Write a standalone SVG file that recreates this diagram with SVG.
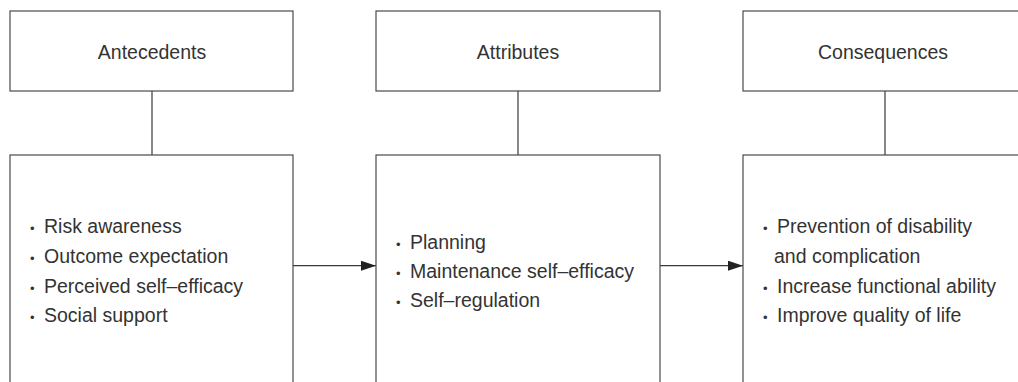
<svg xmlns="http://www.w3.org/2000/svg" width="1018" height="382" viewBox="0 0 1018 382">
<style>
.box{fill:#fff;stroke:#4a4a4a;stroke-width:1.2}
.hd{font-family:"Liberation Sans",Arial,sans-serif;font-size:19.5px;fill:#333;text-anchor:middle}
.tx{font-family:"Liberation Sans",Arial,sans-serif;font-size:19.5px;fill:#333}
.bl{font-size:13px}
.ln{stroke:#3a3a3a;stroke-width:1.2;fill:none}
</style>
<defs>
<marker id="ah" markerWidth="15" markerHeight="10" refX="15" refY="5" orient="auto" markerUnits="userSpaceOnUse">
<path d="M0,0 L15,5 L0,10 Z" fill="#222"/>
</marker>
</defs>
<rect width="1018" height="382" fill="#fff"/>
<g id="connectors">
<line class="ln" x1="152" y1="91" x2="152" y2="155"/>
<line class="ln" x1="518" y1="91" x2="518" y2="155"/>
<line class="ln" x1="885" y1="91" x2="885" y2="155"/>
<line class="ln" x1="293" y1="265.7" x2="376" y2="265.7" marker-end="url(#ah)"/>
<line class="ln" x1="660" y1="265.7" x2="743" y2="265.7" marker-end="url(#ah)"/>
</g>
<g id="antecedents">
<rect class="box" x="10" y="11" width="283" height="80"/>
<text class="hd" x="152" y="59">Antecedents</text>
</g>
<g id="attributes">
<rect class="box" x="376" y="11" width="284" height="80"/>
<text class="hd" x="518" y="59">Attributes</text>
</g>
<g id="consequences">
<rect class="box" x="743" y="11" width="300" height="80"/>
<text class="hd" x="883" y="59">Consequences</text>
</g>
<g id="antecedents-list">
<rect class="box" x="10" y="155" width="283" height="250"/>
<text class="tx" y="233.3"><tspan class="bl" x="30">•</tspan><tspan x="44">Risk awareness</tspan></text>
<text class="tx" y="263"><tspan class="bl" x="30">•</tspan><tspan x="44">Outcome expectation</tspan></text>
<text class="tx" y="292.7"><tspan class="bl" x="30">•</tspan><tspan x="44">Perceived self–efficacy</tspan></text>
<text class="tx" y="321.7"><tspan class="bl" x="30">•</tspan><tspan x="44">Social support</tspan></text>
</g>
<g id="attributes-list">
<rect class="box" x="376" y="155" width="284" height="250"/>
<text class="tx" y="249"><tspan class="bl" x="396">•</tspan><tspan x="410">Planning</tspan></text>
<text class="tx" y="277.7"><tspan class="bl" x="396">•</tspan><tspan x="410">Maintenance self–efficacy</tspan></text>
<text class="tx" y="306.7"><tspan class="bl" x="396">•</tspan><tspan x="410">Self–regulation</tspan></text>
</g>
<g id="consequences-list">
<rect class="box" x="743" y="155" width="300" height="250"/>
<text class="tx" y="233.3"><tspan class="bl" x="763">•</tspan><tspan x="777">Prevention of disability</tspan></text>
<text class="tx" y="263.3"><tspan x="774">and complication</tspan></text>
<text class="tx" y="292.7"><tspan class="bl" x="763">•</tspan><tspan x="777">Increase functional ability</tspan></text>
<text class="tx" y="321.7"><tspan class="bl" x="763">•</tspan><tspan x="777">Improve quality of life</tspan></text>
</g>
</svg>
